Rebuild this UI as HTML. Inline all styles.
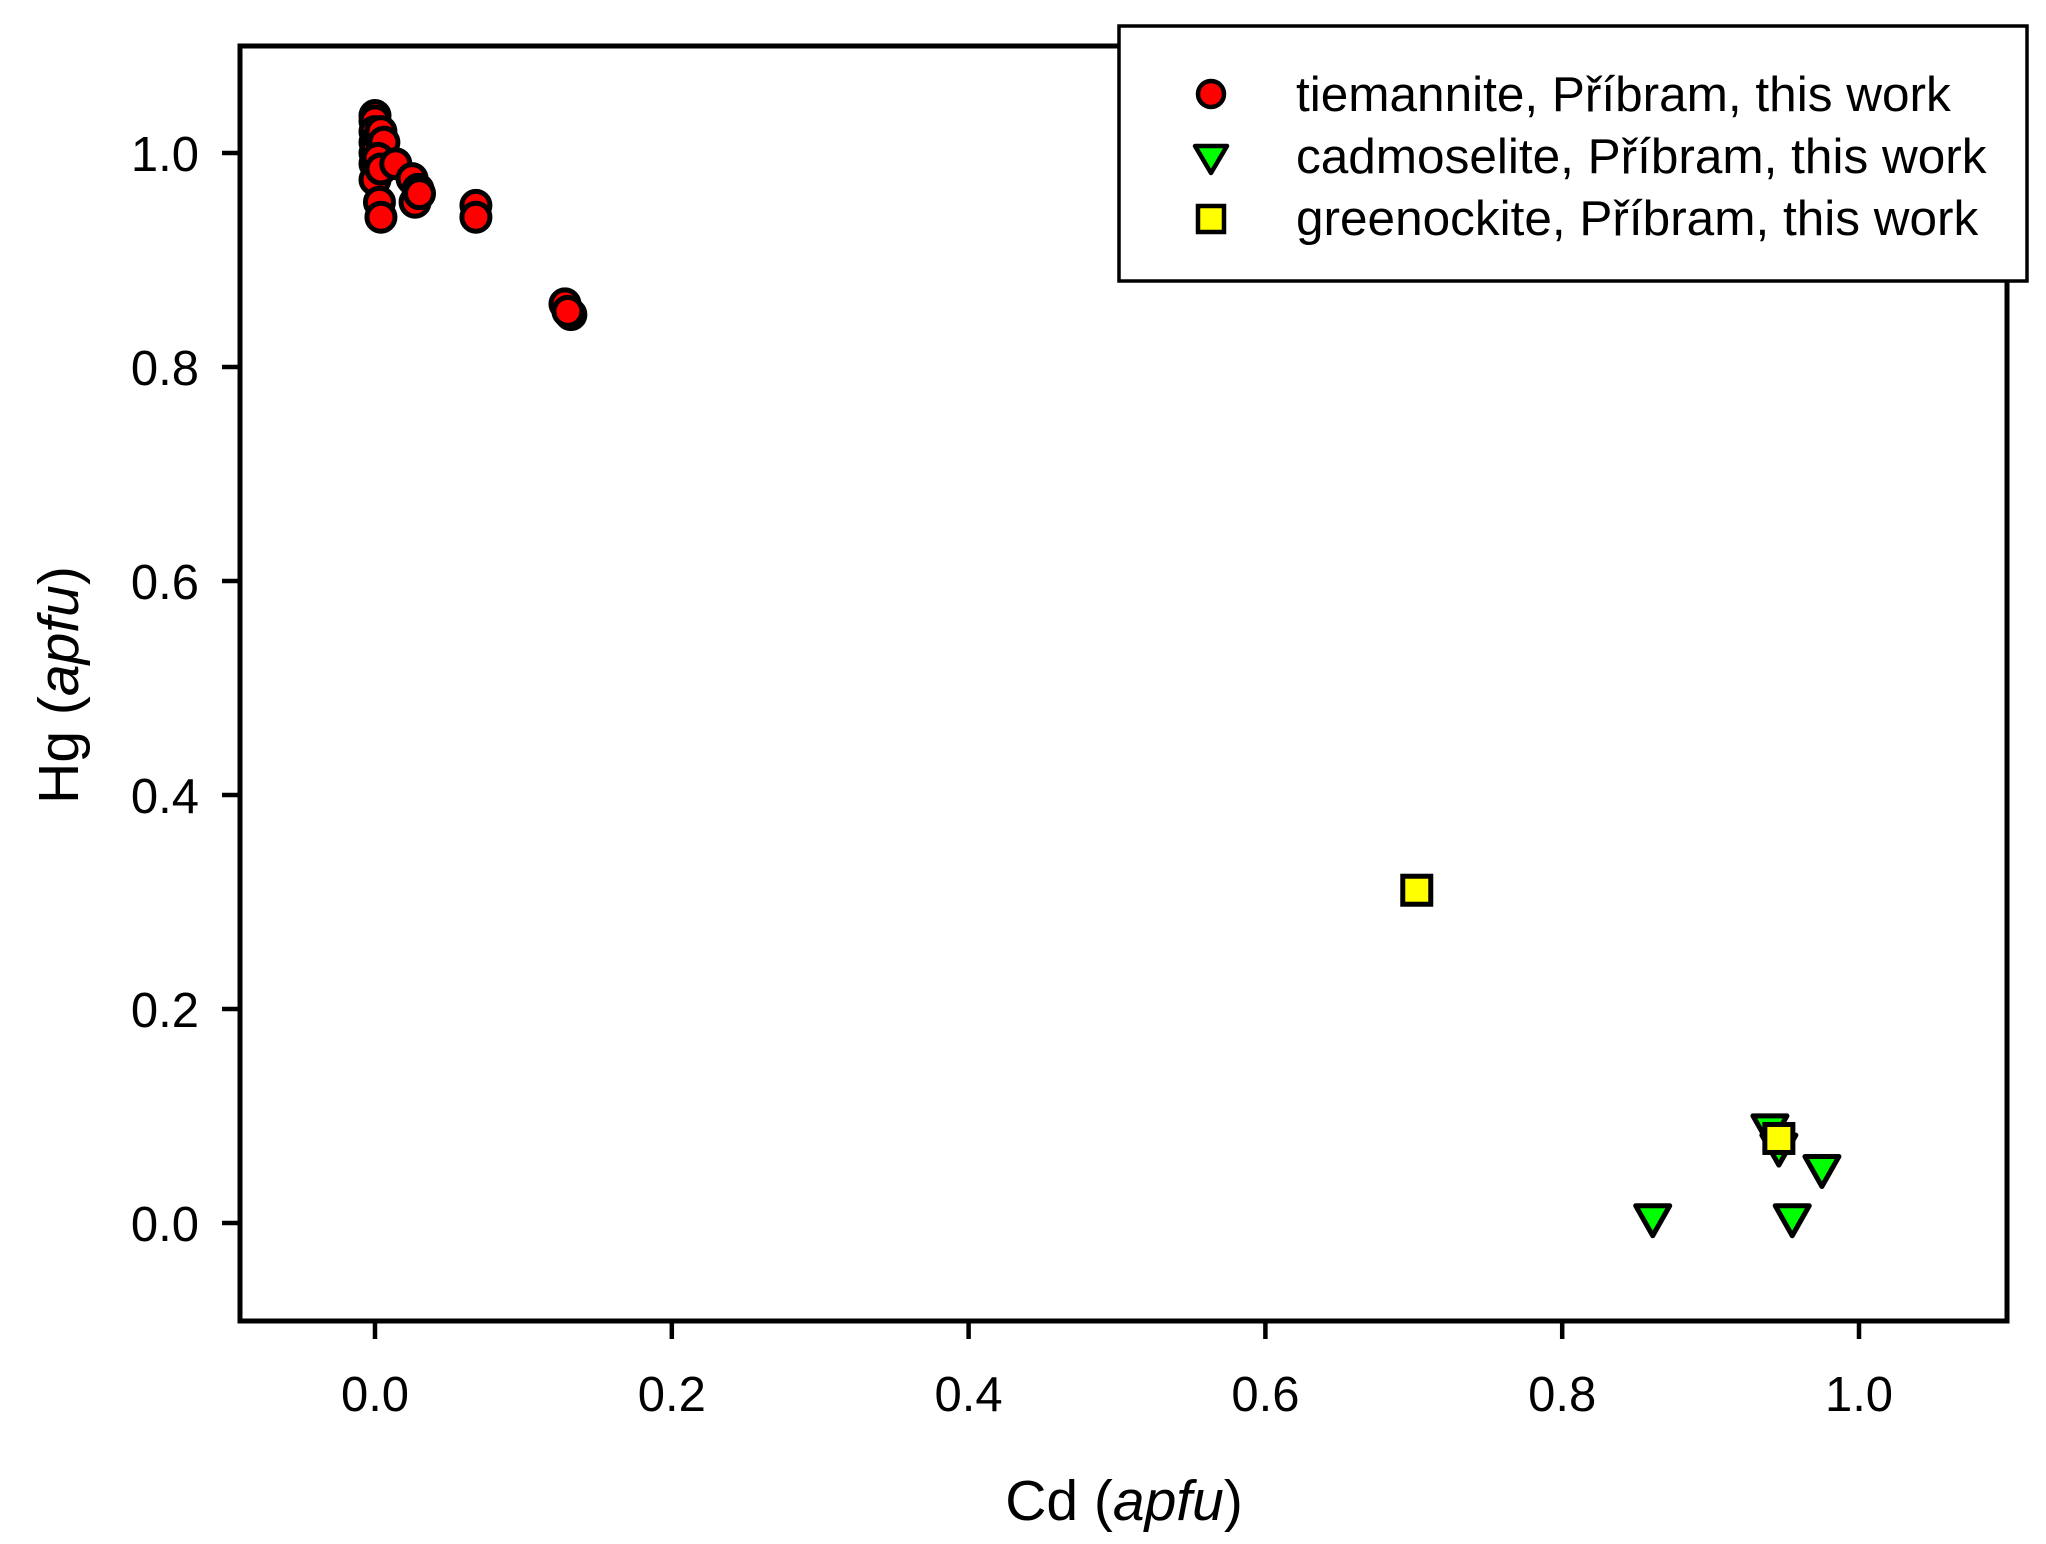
<!DOCTYPE html>
<html><head><meta charset="utf-8"><style>
body{margin:0;background:#fff}
svg{display:block;font-family:"Liberation Sans",Arial,sans-serif}
</style></head><body>
<svg id="chart" width="2046" height="1544" viewBox="0 0 2046 1544">
<rect x="240" y="46" width="1767" height="1275" fill="#fff" stroke="#000" stroke-width="5"/>
<g id="axes"></g>
<g id="marks"></g>
<text x="1124" y="1520" font-size="57" text-anchor="middle">Cd (<tspan font-style="italic">apfu</tspan>)</text>
<text transform="translate(78,685) rotate(-90)" font-size="57" text-anchor="middle">Hg (<tspan font-style="italic">apfu</tspan>)</text>
<g>
<rect x="1119" y="26" width="908" height="255" fill="#fff" stroke="#000" stroke-width="3.5"/>
<circle cx="1211" cy="94" r="13" fill="#ff0000" stroke="#000" stroke-width="4.5"/>
<text x="1296" y="111" font-size="49.5">tiemannite, Příbram, this work</text>
<path d="M1195,146 L1227,146 L1211,173 Z" fill="#00ff00" stroke="#000" stroke-width="4.5" stroke-linejoin="round"/>
<text x="1296" y="173" font-size="49.5">cadmoselite, Příbram, this work</text>
<rect x="1198" y="206" width="26" height="26" fill="#ffff00" stroke="#000" stroke-width="4.5"/>
<text x="1296" y="235" font-size="49.5">greenockite, Příbram, this work</text>
</g>
</svg>
<script>
const xTicks = [0.0, 0.2, 0.4, 0.6, 0.8, 1.0];
const yTicks = [0.0, 0.2, 0.4, 0.6, 0.8, 1.0];
const tieX = [0.0,0.0,0.0,0.0,0.0,0.0,0.0,0.001,0.003,0.004,0.006,0.002,0.004,0.003,0.004,0.014,0.025,0.029,0.027,0.030,0.068,0.068,0.128,0.132,0.130];
const tieY = [1.035,1.03,1.02,1.01,1.0,0.99,0.975,1.005,1.015,1.02,1.01,0.995,0.985,0.954,0.94,0.99,0.976,0.966,0.954,0.962,0.951,0.94,0.859,0.849,0.852];
const cadX = [0.861,0.955,0.975,0.940,0.946];
const cadY = [0.004,0.004,0.050,0.088,0.070];
const grnX = [0.702,0.946];
const grnY = [0.311,0.079];
const NS='http://www.w3.org/2000/svg';
function sx(v){return 375+v*1484;}
function sy(v){return 1223-v*1070;}
const axes=document.getElementById('axes'), marks=document.getElementById('marks');
function mk(tag,attrs,parent){const e=document.createElementNS(NS,tag);for(const k in attrs)e.setAttribute(k,attrs[k]);parent.appendChild(e);return e;}
xTicks.forEach(v=>{
  const t=mk('line',{x1:sx(v),x2:sx(v),y1:1321,y2:1339,stroke:'#000','stroke-width':4.5},axes);
  
  
  const l=mk('text',{x:sx(v),y:1411,'font-size':49,'text-anchor':'middle'},axes);
  l.textContent=v.toFixed(1);
  
  
});
yTicks.forEach(v=>{
  const t=mk('line',{x1:222,x2:240,y1:sy(v),y2:sy(v),stroke:'#000','stroke-width':4.5},axes);
  
  
  const l=mk('text',{x:199,y:sy(v)+18,'font-size':49,'text-anchor':'end'},axes);
  l.textContent=v.toFixed(1);
  
  
});
tieX.forEach((x,i)=>{
  const c=mk('circle',{cx:sx(x),cy:sy(tieY[i]),r:14,fill:'#ff0000',stroke:'#000','stroke-width':5},marks);
  
  
});
cadX.forEach((x,i)=>{
  const X=sx(x),Y=sy(cadY[i]);
  const p=mk('path',{d:`M${X-17},${Y-13} L${X+17},${Y-13} L${X},${Y+17} Z`,fill:'#00ff00',stroke:'#000','stroke-width':5,'stroke-linejoin':'round'},marks);
  
  
});
grnX.forEach((x,i)=>{
  const X=sx(x),Y=sy(grnY[i]);
  const r=mk('rect',{x:X-14,y:Y-14,width:28,height:28,fill:'#ffff00',stroke:'#000','stroke-width':5},marks);
  
  
});
</script>
</body></html>
